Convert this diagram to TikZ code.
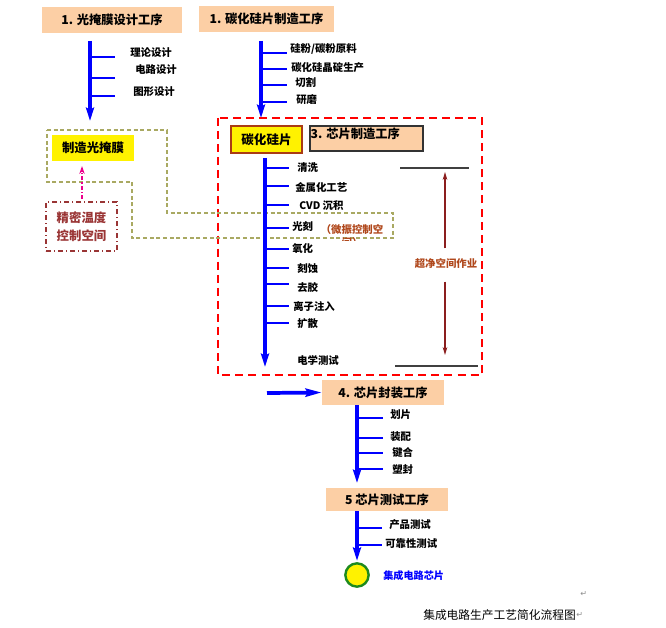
\documentclass[tikz,border=0pt]{standalone}
\usepackage{fontspec}
\setmainfont{Noto Sans CJK SC}
\newfontfamily\symfont{DejaVu Sans}
\usetikzlibrary{arrows.meta}
\definecolor{peach}{HTML}{FCCFA5}
\definecolor{olivedash}{HTML}{A9A962}
\definecolor{darkred}{HTML}{9A3535}
\definecolor{brownred}{HTML}{B0481C}
\definecolor{arrowred}{HTML}{8B1E1E}
\definecolor{ringgreen}{HTML}{1E8A1E}

\begin{document}
\begin{tikzpicture}[x=0.75pt, y=-0.75pt,
  hdr/.style={fill=peach, inner sep=0pt, font=\fontsize{9.2}{11}\selectfont\bfseries},
  lbl/.style={anchor=west, inner sep=0pt, font=\fontsize{7.8}{9}\selectfont\bfseries},
  mainline/.style={blue, line width=2.5pt, -{Stealth[length=10pt,width=6pt,inset=1.5pt]}},
  branch/.style={blue, line width=1.2pt},
  cleanarrow/.style={arrowred, line width=0.9pt, -{Stealth[length=6pt,width=3.5pt]}}
]
\useasboundingbox (0,0) rectangle (666,627);

\node[hdr, minimum width=105pt, minimum height=19.5pt] (mask) at (112,20) {1. 光掩膜设计工序};
\node[hdr, minimum width=101.25pt, minimum height=19.5pt] (wafer) at (266.5,19) {1. 碳化硅片制造工序};

\coordinate (a0) at (90,41);
\coordinate (a9) at (90,121);
\draw[mainline] (a0) -- (a9);
\foreach \n/\y/\lx/\ly/\t in {1/57/130/53/理论设计, 2/78/135/70/电路设计, 3/96/133/92/图形设计} {
  \coordinate (a\n) at (90,\y);
  \coordinate (ae\n) at (115,\y);
  \draw[branch] (a\n) -- (ae\n);
  \node[lbl] (al\n) at (\lx,\ly) {\t};
}

\coordinate (b0) at (261,41);
\coordinate (b9) at (261,118);
\draw[mainline] (b0) -- (b9);
\foreach \n/\y/\lx/\ly/\t in {1/53/290/49/{硅粉/碳粉原料}, 2/69/291/68/碳化硅晶碇生产, 3/85/295/83/切割, 4/102/296/100/研磨} {
  \coordinate (b\n) at (261,\y);
  \coordinate (be\n) at (287,\y);
  \draw[branch] (b\n) -- (be\n);
  \node[lbl] (bl\n) at (\lx,\ly) {\t};
}

\draw[red, line width=1.2pt, dash pattern=on 6pt off 3.8pt] (218,118) rectangle (482,375);
\draw[olivedash, line width=0.9pt, dash pattern=on 3pt off 2pt]
  (47,130) -- (167,130) -- (167,213) -- (393,213) -- (393,238) -- (132,238) -- (132,182) -- (47,182) -- cycle;

\node[fill=yellow, minimum width=61.5pt, minimum height=19.5pt, inner sep=0pt,
  font=\fontsize{9.3}{11}\selectfont\bfseries] (photomask) at (93,148) {制造光掩膜};
\node[draw=darkred, line width=1pt, dash pattern=on 4pt off 2pt on 1pt off 2pt, text=darkred,
  minimum width=53.25pt, minimum height=36.75pt, inner sep=0pt, align=center,
  font=\fontsize{9.3}{13.5}\selectfont\bfseries] (thermal) at (81.5,226.5) {精密温度\\控制空间};
\coordinate (m0) at (82,199);
\coordinate (m1) at (82,166);
\draw[magenta, line width=0.9pt, dash pattern=on 3pt off 1.5pt on 1pt off 1.5pt, -{Stealth[length=6pt,width=4pt]}] (m0) -- (m1);

\node[fill=yellow, draw={rgb,255:red,170;green,60;blue,20}, line width=1pt, minimum width=53.25pt, minimum height=20.25pt,
  inner sep=0pt, font=\fontsize{9.4}{11}\selectfont\bfseries] (sic) at (266.5,139.5) {碳化硅片};
\node[fill=peach, draw=black!80, line width=0.9pt, minimum width=84.75pt, minimum height=18.75pt, inner sep=0pt] (chipfab) at (366.5,138.5) {};
\node[anchor=north west, inner sep=0pt, font=\fontsize{9.2}{11}\selectfont\bfseries] (chipfabt) at ([xshift=0.8pt,yshift=-1.8pt]chipfab.north west) {3. 芯片制造工序};

\coordinate (c0) at (265,158);
\coordinate (c9) at (265,367);
\draw[mainline] (c0) -- (c9);
\foreach \n/\y/\lx/\ly/\t in {1/168/297/168/清洗, 2/186/295/187/金属化工艺, 3/205/299/206/CVD 沉积, 4/228/292/227/光刻,
  5/249/292/249/氧化, 6/268/297/269/刻蚀, 7/284/297/287/去胶, 8/306/293/306/离子注入, 9/323/297/324/扩散} {
  \coordinate (c\n) at (265,\y);
  \coordinate (ce\n) at (289,\y);
  \draw[branch] (c\n) -- (ce\n);
  \node[lbl] (cl\n) at (\lx,\ly) {\t};
}
\node[lbl] (cl10) at (297,361) {电学测试};

\begin{scope}
  \clip (300,215) rectangle (400,240.5);
  \node[anchor=north, inner sep=0pt, align=center, text=brownred,
    font=\fontsize{7.8}{9.75}\selectfont\bfseries] (vib) at (352,224) {（微振控制空\\间）};
\end{scope}

\node[text=brownred, inner sep=0pt, font=\fontsize{7.8}{9}\selectfont\bfseries] (clean) at (446,263) {超净空间作业};
\coordinate (ctop) at (445,172);
\coordinate (cbot) at (445,355);
\draw[cleanarrow, shorten <=7pt] (clean.north -| ctop) -- (ctop);
\draw[cleanarrow, shorten <=10pt] (clean.south -| cbot) -- (cbot);
\coordinate (t0) at (400,168);
\coordinate (t1) at (469,168);
\coordinate (u0) at (395,366);
\coordinate (u1) at (478,366);
\draw[black!75, line width=0.8pt] (t0) -- (t1);
\draw[black!75, line width=0.8pt] (u0) -- (u1);

\node[hdr, minimum width=91.5pt, minimum height=18.75pt] (pack) at (383,392.5) {4. 芯片封装工序};
\coordinate (pk) at (267,393);
\draw[mainline, line width=2.8pt, -{Stealth[length=12pt,width=6pt,inset=1.5pt]}] (pk) -- (pack.west);

\coordinate (d0) at (357,405);
\coordinate (d9) at (357,483);
\draw[mainline] (d0) -- (d9);
\foreach \n/\y/\lx/\ly/\t in {1/418/390/415/划片, 2/438/390/437/装配, 3/453/392/453/键合, 4/469/392/470/塑封} {
  \coordinate (d\n) at (357,\y);
  \coordinate (de\n) at (383,\y);
  \draw[branch] (d\n) -- (de\n);
  \node[lbl] (dl\n) at (\lx,\ly) {\t};
}

\node[hdr, minimum width=91.5pt, minimum height=17.25pt] (test) at (387,499.5) {5 芯片测试工序};

\node[circle, fill=yellow, draw=ringgreen, line width=1.8pt, minimum size=17.5pt, inner sep=0pt] (chip) at (357,575) {};
\coordinate (e0) at (357,511);
\draw[mainline, shorten >=1pt] (e0) -- (chip.north);
\foreach \n/\y/\lx/\ly/\t in {1/528/389/525/产品测试, 2/545/385/544/可靠性测试} {
  \coordinate (e\n) at (357,\y);
  \coordinate (ee\n) at (382,\y);
  \draw[branch] (e\n) -- (ee\n);
  \node[lbl] (el\n) at (\lx,\ly) {\t};
}
\node[lbl, text=blue, font=\fontsize{7.6}{9}\selectfont\bfseries] (chipname) at (383,576) {集成电路芯片};

\node[anchor=west, inner sep=0pt, font=\fontsize{8.8}{10}\selectfont] (caption) at (423,615) {集成电路生产工艺简化流程图};
\node[anchor=west, inner sep=0pt, text=black!45, font=\symfont\fontsize{6}{7}\selectfont] (ret1) at (caption.east) {↵};
\node[anchor=west, inner sep=0pt, text=black!45, font=\symfont\fontsize{6}{7}\selectfont] (ret2) at (580,594) {↵};
\end{tikzpicture}
\end{document}
